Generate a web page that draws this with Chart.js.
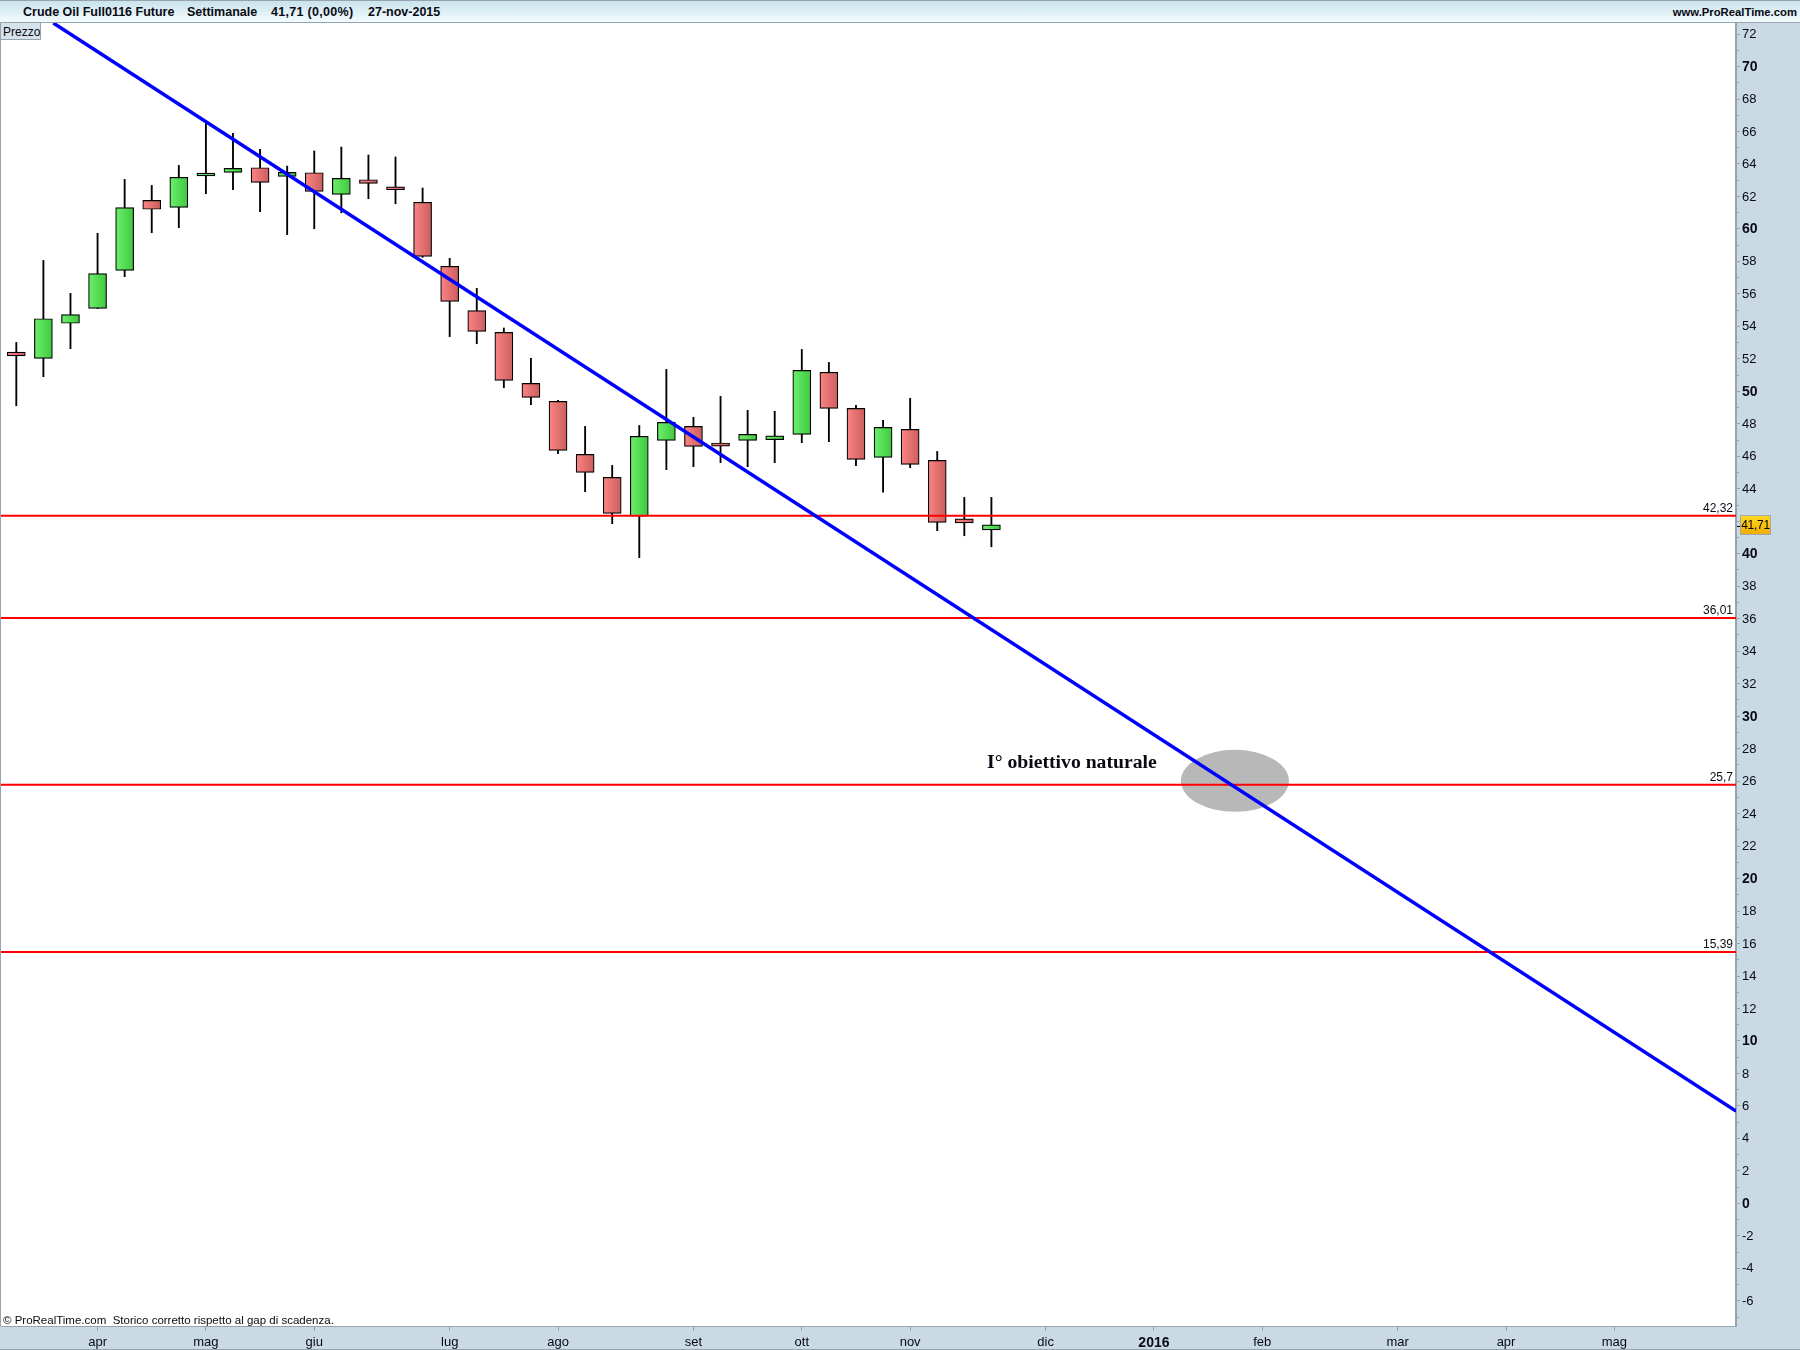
<!DOCTYPE html>
<html>
<head>
<meta charset="utf-8">
<title>Crude Oil</title>
<script src="https://cdn.jsdelivr.net/npm/chart.js@4/dist/chart.umd.min.js"></script>
<style>
html, body { margin: 0; padding: 0; background: #c9dae4; }
#wrap { position: relative; width: 1800px; height: 1350px; overflow: hidden; }
#wrap canvas { position: absolute; left: 0; top: 0; }
#head { position: absolute; left: 0; top: 0; width: 1800px; height: 23px; box-sizing: border-box; border-top: 1px solid #95a5ad; border-bottom: 1px solid #95a5ad; background: linear-gradient(#c9e3ec, #f3fbfc); }
.ht { position: absolute; top: 4px; font: bold 12.5px "Liberation Sans"; color: #0a0a14; white-space: nowrap; }
#tab { position: absolute; left: 1px; top: 23px; width: 40px; height: 17px; box-sizing: border-box; border-right: 1px solid #95a5ad; border-bottom: 1px solid #95a5ad; background: #d5e2e9; font: 12px "Liberation Sans"; color: #0a0a14; padding: 2px 0 0 2px; }
#foot { position: absolute; left: 3px; top: 1314px; font: 11.5px "Liberation Sans"; color: #0a0a14; white-space: pre; }
#price { position: absolute; left: 1740px; top: 515px; width: 31px; height: 20px; box-sizing: border-box; border: 1px solid #a0a8ac; background: linear-gradient(#ffd820, #f0ae00); font: 12px "Liberation Sans"; letter-spacing: -0.3px; color: #000; text-align: center; line-height: 18px; }
#edge { position: absolute; left: 0; top: 1349px; width: 1800px; height: 1px; background: #95a5ad; }
</style>
</head>
<body>
<div id="wrap">
    <canvas id="chart" width="1800" height="1350"></canvas>
    <div id="head">
        <span class="ht" style="left:23px">Crude Oil Full0116 Future</span>
        <span class="ht" style="left:187px">Settimanale</span>
        <span class="ht" style="left:271px;letter-spacing:.3px">41,71 (0,00%)</span>
        <span class="ht" style="left:368px">27-nov-2015</span>
        <span class="ht" style="right:3px;font-size:11.3px;top:5px">www.ProRealTime.com</span>
    </div>
    <div id="tab">Prezzo</div>
    <div id="foot">© ProRealTime.com  Storico corretto rispetto al gap di scadenza.</div>
    <div id="price">41,71</div>
    <div id="edge"></div>
</div>
<script>
// weekly candles
const opens = [52.42, 52.03, 54.19, 55.11, 57.45, 61.76, 61.33, 63.27, 63.48, 63.77, 63.24, 63.46, 62.13, 63.03, 62.59, 61.64, 57.70, 54.97, 53.63, 50.49, 49.38, 46.12, 44.70, 42.32, 46.98, 47.84, 46.82, 46.98, 47.02, 47.35, 51.17, 48.95, 45.93, 47.66, 45.75, 42.15, 41.47];
const closes = [52.18, 54.47, 54.72, 57.25, 61.31, 61.21, 63.18, 63.44, 63.73, 62.87, 63.48, 62.31, 63.11, 62.81, 62.41, 58.31, 55.54, 53.69, 50.67, 49.63, 46.37, 45.01, 42.49, 47.23, 48.09, 46.61, 46.62, 47.35, 47.26, 51.29, 48.95, 45.81, 47.78, 45.50, 41.93, 41.90, 41.78];
const highs = [53.01, 58.06, 56.03, 59.73, 63.05, 62.68, 63.91, 66.54, 65.89, 64.90, 63.87, 64.80, 65.04, 64.55, 64.43, 62.52, 58.19, 56.34, 53.90, 52.03, 49.44, 47.84, 45.44, 47.90, 51.35, 48.40, 49.69, 48.83, 48.77, 52.58, 51.78, 49.14, 48.21, 49.57, 46.30, 43.47, 43.47];
const lows = [49.11, 50.90, 52.63, 55.09, 57.06, 59.77, 60.08, 62.17, 62.42, 61.06, 59.65, 60.01, 60.99, 61.86, 61.55, 58.25, 53.37, 52.93, 50.22, 49.18, 46.16, 43.82, 41.85, 39.76, 45.18, 45.36, 45.61, 45.36, 45.61, 46.84, 46.90, 45.42, 43.79, 45.30, 41.42, 41.11, 40.43];

const levels = [42.34, 36.05, 25.77, 15.48];
const levelLabels = ['42,32', '36,01', '25,7', '15,39'];

const trendX = [1.366, 63.49];
const trendY = [72.68, 5.68];

const monthNames = ['apr', 'mag', 'giu', 'lug', 'ago', 'set', 'ott', 'nov', 'dic', '2016', 'feb', 'mar', 'apr', 'mag'];
const monthWeeks = [3, 7, 11, 16, 20, 25, 29, 33, 38, 42, 46, 51, 55, 59];

const xMin = -0.565, xMax = 63.49;
const yMin = -7.55, yMax = 72.68;

const targetX = 44.99, targetY = 26.02;
const lastPrice = 41.71;

const yTicks = [];
for (let v = -7; v <= 72; v++) yTicks.push(v);

function bodyFill(ctx) {
    const up = closes[ctx.dataIndex] >= opens[ctx.dataIndex];
    const flat = up ? '#55dd55' : '#e87070';
    if (!ctx.parsed) return flat;
    const x = ctx.chart.scales.x.getPixelForValue(ctx.parsed.x);
    // scale has no size yet on the first pass
    if (!isFinite(x)) return flat;
    const g = ctx.chart.ctx.createLinearGradient(x - 9, 0, x + 9, 0);
    g.addColorStop(0, up ? '#6cf06c' : '#fb8484');
    g.addColorStop(1, up ? '#3fc83f' : '#cc5e5e');
    return g;
}

// plot background, grey target ellipse
const backdrop = {
    id: 'backdrop',
    beforeDraw(chart) {
        const { ctx, chartArea: a } = chart;
        ctx.save();
        ctx.fillStyle = '#ffffff';
        ctx.fillRect(a.left, a.top, a.right - a.left, a.bottom - a.top);
        ctx.fillStyle = '#95a5ad';
        ctx.fillRect(0, a.top, 1, a.bottom - a.top);
        ctx.restore();
    },
    beforeDatasetsDraw(chart) {
        const { ctx, scales } = chart;
        ctx.save();
        ctx.fillStyle = '#b8b8b8';
        ctx.beginPath();
        ctx.ellipse(scales.x.getPixelForValue(targetX), scales.y.getPixelForValue(targetY), 54, 31, 0, 0, Math.PI * 2);
        ctx.fill();
        ctx.restore();
    }
};

// level labels, comment text and the last price tick
const notes = {
    id: 'notes',
    afterDatasetsDraw(chart) {
        const { ctx, scales, chartArea: a } = chart;
        ctx.save();
        ctx.fillStyle = '#0a0a14';
        ctx.font = '12px "Liberation Sans"';
        ctx.textAlign = 'right';
        ctx.textBaseline = 'alphabetic';
        levels.forEach((l, i) => {
            ctx.fillText(levelLabels[i], a.right - 3, scales.y.getPixelForValue(l) - 4);
        });
        ctx.textAlign = 'left';
        ctx.font = 'bold 19.7px "Liberation Serif"';
        ctx.fillText('I° obiettivo naturale', 987, 768);
        ctx.fillStyle = '#000000';
        ctx.fillRect(a.right + 1, scales.y.getPixelForValue(lastPrice), 4, 1);
        ctx.restore();
    }
};

new Chart(document.getElementById('chart'), {
    type: 'bar',
    data: {
        datasets: [
            {
                type: 'line',
                order: 1,
                data: trendX.map((x, i) => ({ x: x, y: trendY[i] })),
                borderColor: '#0000ff',
                borderWidth: 3.5,
                pointRadius: 0
            },
            ...levels.map(l => ({
                type: 'line',
                order: 2,
                data: [{ x: xMin, y: l }, { x: xMax, y: l }],
                borderColor: '#ff0000',
                borderWidth: 2,
                pointRadius: 0
            })),
            {
                order: 3,
                data: opens.map((o, i) => ({ x: i, y: [o, closes[i]] })),
                backgroundColor: bodyFill,
                borderColor: '#000000',
                borderWidth: 1.2,
                borderSkipped: false,
                barThickness: 18,
                grouped: false
            },
            {
                order: 4,
                data: lows.map((l, i) => ({ x: i, y: [l, highs[i]] })),
                backgroundColor: '#000000',
                borderWidth: 0,
                barThickness: 1.2,
                grouped: false
            }
        ]
    },
    options: {
        responsive: false,
        animation: false,
        events: [],
        layout: { padding: { top: 23, left: 1, right: 0, bottom: 0 } },
        plugins: { legend: { display: false }, tooltip: { enabled: false } },
        scales: {
            x: {
                type: 'linear',
                min: xMin,
                max: xMax,
                offset: false,
                afterBuildTicks(scale) { scale.ticks = monthWeeks.map(w => ({ value: w })); },
                afterFit(scale) { scale.height = 24; },
                border: { color: '#95a5ad', width: 1 },
                grid: { offset: false, drawOnChartArea: false, tickLength: 5, tickColor: '#95a5ad' },
                ticks: {
                    autoSkip: false,
                    maxRotation: 0,
                    padding: 4,
                    color: '#0a0a14',
                    callback: (v, i) => monthNames[i],
                    font: c => monthNames[c.index] === '2016'
                        ? { family: '"Liberation Sans"', size: 14, weight: 'bold' }
                        : { family: '"Liberation Sans"', size: 13 }
                }
            },
            y: {
                position: 'right',
                min: yMin,
                max: yMax,
                afterBuildTicks(scale) { scale.ticks = yTicks.map(v => ({ value: v })); },
                afterFit(scale) { scale.width = 64; },
                border: { color: '#95a5ad', width: 2 },
                grid: {
                    drawOnChartArea: false,
                    tickLength: 4,
                    tickColor: '#95a5ad',
                    tickBorderDash: c => (c.tick && c.tick.value % 2 !== 0) ? [2, 10] : []
                },
                ticks: {
                    autoSkip: false,
                    padding: 2,
                    labelOffset: 0.5,
                    crossAlign: 'near',
                    color: '#0a0a14',
                    callback: v => (v % 2 === 0 ? String(v) : ''),
                    font: c => (c.tick && c.tick.value % 10 === 0)
                        ? { family: '"Liberation Sans"', size: 14, weight: 'bold' }
                        : { family: '"Liberation Sans"', size: 13 }
                }
            }
        }
    },
    plugins: [backdrop, notes]
});
</script>
</body>
</html>
